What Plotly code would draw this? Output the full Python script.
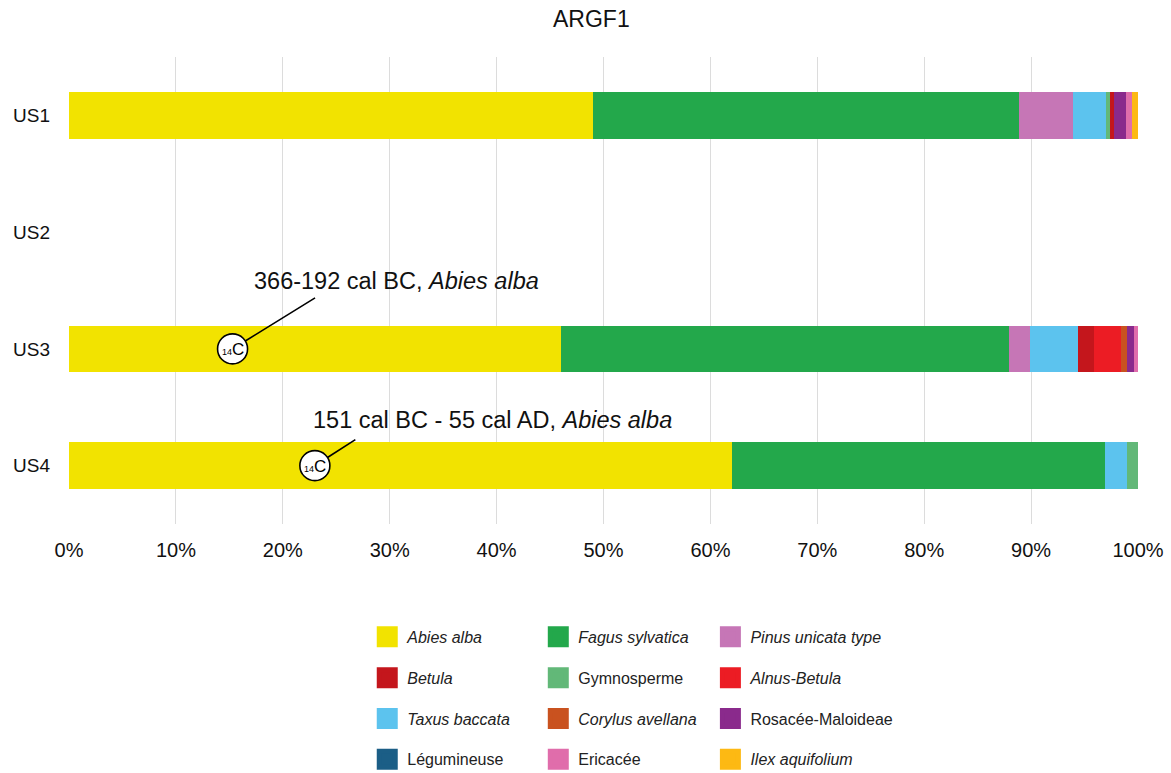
import plotly.graph_objects as go

# Levels (stratigraphic units) and charcoal taxa proportions (%)
units = ["US1", "US2", "US3", "US4"]

abies_alba = [49.0, 0, 46.0, 62.0]
fagus_sylvatica = [39.9, 0, 41.9, 34.9]
pinus_unicata = [5.0, 0, 2.0, 0]
taxus_baccata = [3.1, 0, 4.5, 2.1]
gymnosperme = [0.4, 0, 0, 1.0]
betula = [0.4, 0, 1.5, 0]
alnus_betula = [0, 0, 2.5, 0]
corylus_avellana = [0, 0, 0.6, 0]
rosacee_maloideae = [1.1, 0, 0.6, 0]
ericacee = [0.5, 0, 0.4, 0]
ilex_aquifolium = [0.6, 0, 0, 0]
legumineuse = [0, 0, 0, 0]

# Radiocarbon dates: unit, position along the bar (%), label
c14_units = ["US3", "US4"]
c14_pos = [15.3, 23.0]
c14_labels = ["366-192 cal BC, <i>Abies alba</i>",
              "151 cal BC - 55 cal AD, <i>Abies alba</i>"]

FONT = "Liberation Sans, Arial, sans-serif"

# (name, values, colour, legend id, rank within legend); list order = stacking order
taxa = [
    ("<i>Abies alba</i>", abies_alba, "#F2E300", "legend", 1),
    ("<i>Fagus sylvatica</i>", fagus_sylvatica, "#23A84B", "legend2", 1),
    ("<i>Pinus unicata type</i>", pinus_unicata, "#C676B6", "legend3", 1),
    ("<i>Taxus baccata</i>", taxus_baccata, "#5CC3EE", "legend", 3),
    ("Gymnosperme", gymnosperme, "#62B878", "legend2", 2),
    ("<i>Betula</i>", betula, "#C4161C", "legend", 2),
    ("<i>Alnus-Betula</i>", alnus_betula, "#EC1C24", "legend3", 2),
    ("<i>Corylus avellana</i>", corylus_avellana, "#C9521F", "legend2", 3),
    ("Rosacée-Maloideae", rosacee_maloideae, "#8A2A8C", "legend3", 3),
    ("Ericacée", ericacee, "#E06DAB", "legend2", 4),
    ("<i>Ilex aquifolium</i>", ilex_aquifolium, "#FDB913", "legend3", 4),
    ("Légumineuse", legumineuse, "#1B5E86", "legend", 4),
]

fig = go.Figure()
for i, (name, vals, col, leg, rank) in enumerate(taxa):
    fig.add_trace(go.Bar(
        y=units, x=vals, name=name, orientation="h",
        marker=dict(color=col, line=dict(width=0)),
        legendgroup=f"g{i}", showlegend=False,
    ))
    # legend entry with a large square swatch, tied to the bar trace
    fig.add_trace(go.Scatter(
        x=[None], y=[None], mode="markers", name=name,
        marker=dict(symbol="square", size=16, color=col,
                    line=dict(color=col, width=5)),
        legend=leg, legendrank=rank, legendgroup=f"g{i}",
        hoverinfo="skip",
    ))

# 14C markers
fig.add_trace(go.Scatter(
    x=c14_pos, y=c14_units, mode="markers", showlegend=False,
    marker=dict(symbol="circle", size=30, color="white",
                line=dict(color="black", width=1.6)),
    hoverinfo="skip",
))

annotations = []
for u, p, lab, (ax, ay), (tdx, tdy) in zip(
        c14_units, c14_pos, c14_labels,
        [(84, -52), (42, -27)], [(15.3, 68), (16.6, 46)]):
    annotations.append(dict(
        x=p, y=u, xref="x", yref="y",
        text="<span style='font-size:9px'>14</span>C",
        showarrow=False, font=dict(size=17, color="black", family=FONT),
        xshift=0, yshift=-1))
    annotations.append(dict(
        x=p, y=u, xref="x", yref="y", text="", showarrow=True,
        ax=ax, ay=ay, arrowhead=0, arrowwidth=1.6, arrowcolor="black",
        standoff=15))
    annotations.append(dict(
        x=p + tdx, y=u, xref="x", yref="y", text=lab, showarrow=False,
        yshift=tdy, font=dict(size=23.5, color="#111111", family=FONT)))

legend_common = dict(
    orientation="v", xref="paper", yref="container", yanchor="top",
    xanchor="left", y=0.198,
    font=dict(size=16, color="#222222", family=FONT),
    tracegroupgap=17, bgcolor="rgba(0,0,0,0)", itemclick=False,
)

fig.update_layout(
    width=1171, height=773,
    paper_bgcolor="white", plot_bgcolor="white",
    barmode="stack", bargap=0.6,
    title=dict(text="ARGF1", x=0.505, xanchor="center",
               yref="container", y=0.976, yanchor="middle",
               font=dict(size=23, color="#111111", family=FONT)),
    margin=dict(l=69, r=33, t=57, b=249),
    xaxis=dict(range=[0, 100], dtick=10, ticksuffix="%",
               showgrid=True, gridcolor="#DCDCDC", gridwidth=1,
               zeroline=False, showline=False, ticks="",
               ticklabelstandoff=12, automargin=False,
               tickfont=dict(size=20, color="#111111", family=FONT)),
    yaxis=dict(categoryorder="array", categoryarray=units,
               range=[3.5, -0.5], showgrid=False, zeroline=False,
               ticks="", ticklabelstandoff=18, automargin=False,
               tickfont=dict(size=19, color="#111111", family=FONT)),
    legend=dict(legend_common, x=0.279),
    legend2=dict(legend_common, x=0.439),
    legend3=dict(legend_common, x=0.600),
    annotations=annotations,
    showlegend=True,
)

fig.write_html("out.html")
